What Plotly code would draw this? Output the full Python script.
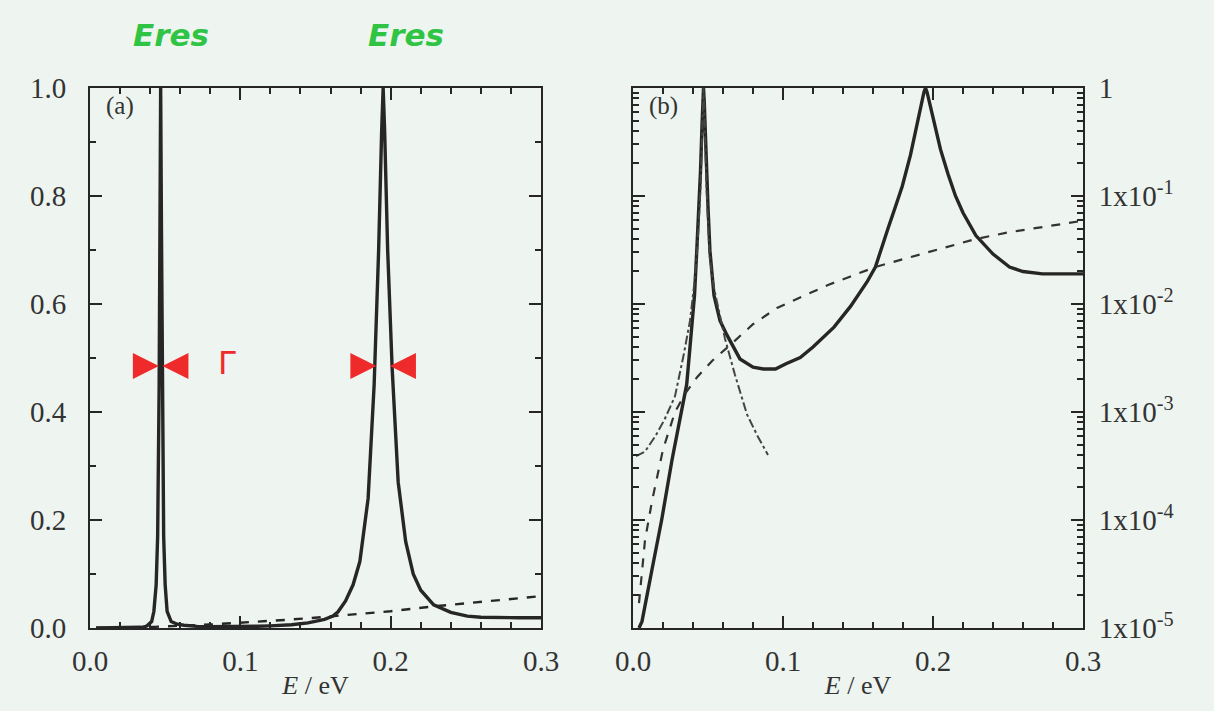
import plotly.graph_objects as go

# ---- data ----
# total transmission (solid)
E_total = [0.004, 0.006, 0.0127, 0.0191, 0.026, 0.0338, 0.0358, 0.038, 0.041, 0.0425, 0.044, 0.045,
           0.046, 0.0465, 0.047, 0.0475, 0.048, 0.049, 0.050, 0.0513, 0.054, 0.058, 0.0625, 0.0713,
           0.080, 0.0869, 0.095, 0.102, 0.1115, 0.120, 0.134, 0.145, 0.156, 0.1616, 0.165, 0.170,
           0.175, 0.1795, 0.185, 0.189, 0.192, 0.194, 0.195, 0.196, 0.198, 0.201, 0.205, 0.210,
           0.215, 0.220, 0.2286, 0.240, 0.251, 0.260, 0.273, 0.285, 0.300]
T_total = [1.0e-5, 1.15e-5, 3.5e-5, 1.0e-4, 3.6e-4, 1.26e-3, 1.8e-3, 4.0e-3, 1.2e-2, 3.1e-2, 8.0e-2, 0.17,
           0.45, 0.75, 1.0, 0.75, 0.45, 0.17, 0.08, 3.1e-2, 1.2e-2, 7.0e-3, 5.2e-3, 3.1e-3,
           2.6e-3, 2.5e-3, 2.5e-3, 2.8e-3, 3.2e-3, 4.0e-3, 6.1e-3, 9.5e-3, 1.6e-2, 2.2e-2, 3.0e-2, 5.0e-2,
           8.0e-2, 0.123, 0.24, 0.45, 0.70, 0.92, 1.0, 0.92, 0.70, 0.48, 0.27, 0.16,
           0.10, 0.07, 0.043, 0.029, 0.022, 0.020, 0.019, 0.019, 0.019]

# smooth background (dashed)
E_bg = [0.004, 0.008, 0.0127, 0.020, 0.028, 0.035, 0.0427, 0.053, 0.065, 0.080, 0.096, 0.115,
        0.130, 0.145, 0.1616, 0.180, 0.200, 0.2286, 0.250, 0.275, 0.300]
T_bg = [1.7e-5, 6.5e-5, 1.5e-4, 4.5e-4, 1.0e-3, 1.5e-3, 2.1e-3, 3.0e-3, 4.2e-3, 6.5e-3, 9.2e-3, 1.2e-2,
        1.5e-2, 1.8e-2, 2.2e-2, 2.6e-2, 3.1e-2, 4.0e-2, 4.6e-2, 5.2e-2, 5.9e-2]

# first resonance alone (dash-dot, panel b only)
E_res1 = [0.002, 0.008, 0.015, 0.021, 0.028, 0.034, 0.038, 0.041, 0.043, 0.045, 0.046, 0.0465,
          0.047, 0.0475, 0.048, 0.049, 0.051, 0.054, 0.0613, 0.068, 0.076, 0.083, 0.090]
T_res1 = [3.9e-4, 4.3e-4, 6.0e-4, 8.5e-4, 1.4e-3, 3.5e-3, 7.0e-3, 1.6e-2, 3.5e-2, 0.12, 0.35, 0.65,
          1.0, 0.65, 0.35, 0.12, 2.8e-2, 1.4e-2, 4.8e-3, 2.2e-3, 9.5e-4, 6.0e-4, 4.0e-4]

x_ticks = [0.0, 0.1, 0.2, 0.3]
x_tick_text = ["0.0", "0.1", "0.2", "0.3"]
ya_ticks = [0.0, 0.2, 0.4, 0.6, 0.8, 1.0]
ya_tick_text = ["0.0", "0.2", "0.4", "0.6", "0.8", "1.0"]
yb_ticks = [1e-5, 1e-4, 1e-3, 1e-2, 1e-1, 1]
yb_tick_text = ["1x10<sup>-5</sup>", "1x10<sup>-4</sup>", "1x10<sup>-3</sup>",
                "1x10<sup>-2</sup>", "1x10<sup>-1</sup>", "1"]

BG = "#eef4f0"
INK = "#262626"
TXT = "#333333"
SERIF = "Liberation Serif, DejaVu Serif, serif"

fig = go.Figure()
fig.add_trace(go.Scatter(x=E_total, y=T_total, mode="lines", xaxis="x", yaxis="y",
                         line=dict(color=INK, width=3.4), showlegend=False))
fig.add_trace(go.Scatter(x=E_bg, y=T_bg, mode="lines", xaxis="x", yaxis="y",
                         line=dict(color=INK, width=2.4, dash="dash"), showlegend=False))
fig.add_trace(go.Scatter(x=E_total, y=T_total, mode="lines", xaxis="x2", yaxis="y2",
                         line=dict(color=INK, width=3.4), showlegend=False))
fig.add_trace(go.Scatter(x=E_bg, y=T_bg, mode="lines", xaxis="x2", yaxis="y2",
                         line=dict(color="#333333", width=2.2, dash="dash"), showlegend=False))
fig.add_trace(go.Scatter(x=E_res1, y=T_res1, mode="lines", xaxis="x2", yaxis="y2",
                         line=dict(color="#444444", width=2, dash="dashdot"), showlegend=False))

W, H = 1214, 711
def dx(p0, p1):
    return [p0 / W, p1 / W]
def dy(top, bottom):
    return [(H - bottom) / H, (H - top) / H]

xcommon = dict(range=[0, 0.3], tickvals=x_ticks, ticktext=x_tick_text, ticks="inside",
               ticklen=12, tickwidth=1.5, tickcolor=INK, showline=True, linecolor=INK,
               linewidth=2, mirror="allticks", showgrid=False, zeroline=False, automargin=False,
               ticklabelstandoff=6,
               tickfont=dict(family=SERIF, size=29, color=TXT),
               minor=dict(ticks="inside", dtick=0.02, tick0=0, ticklen=6, tickcolor=INK,
                          showgrid=False),
               title=dict(text="<i>E</i> / eV", font=dict(family=SERIF, size=26, color=TXT),
                          standoff=0))

fig.update_layout(
    width=W, height=H, paper_bgcolor=BG, plot_bgcolor=BG, autosize=False,
    margin=dict(l=0, r=0, t=0, b=0, pad=0),
    xaxis=dict(domain=dx(90, 541), anchor="y", **xcommon),
    yaxis=dict(domain=dy(88, 628), anchor="x", range=[0, 1.0], tickvals=ya_ticks,
               ticktext=ya_tick_text, ticks="inside", ticklen=12, tickwidth=1.5, tickcolor=INK,
               showline=True, linecolor=INK, linewidth=2, mirror="allticks", showgrid=False,
               zeroline=False, automargin=False, ticklabelstandoff=16,
               tickfont=dict(family=SERIF, size=29, color=TXT),
               minor=dict(ticks="inside", dtick=0.1, tick0=0, ticklen=6, tickcolor=INK,
                          showgrid=False)),
    xaxis2=dict(domain=dx(633, 1083), anchor="y2", **xcommon),
    yaxis2=dict(domain=dy(88, 628), anchor="x2", type="log", range=[-5, 0], side="right",
                tickvals=yb_ticks, ticktext=yb_tick_text, ticks="inside", ticklen=12,
                tickwidth=1.5, tickcolor=INK, showline=True, linecolor=INK, linewidth=2,
                mirror="allticks", showgrid=False, zeroline=False, automargin=False,
                ticklabelstandoff=8,
                tickfont=dict(family=SERIF, size=29, color=TXT),
                minor=dict(ticks="inside", dtick="D1", ticklen=6, tickcolor=INK,
                           showgrid=False)),
)

# panel labels
fig.add_annotation(text="(a)", xref="x", yref="paper", x=0.009, y=(H - 90) / H, xanchor="left",
                   yanchor="top", showarrow=False, font=dict(family=SERIF, size=25, color=TXT))
fig.add_annotation(text="(b)", xref="x2", yref="paper", x=0.009, y=(H - 90) / H,
                   xanchor="left", yanchor="top", showarrow=False,
                   font=dict(family=SERIF, size=25, color=TXT))

# handwritten marks: resonance positions and widths
i1 = max(range(len(E_total)), key=lambda i: T_total[i] if E_total[i] < 0.1 else -1)
i2 = max(range(len(E_total)), key=lambda i: T_total[i] if E_total[i] > 0.1 else -1)
pk1, pk2 = E_total[i1], E_total[i2]
GREEN = "#30c445"
RED = "#ee2a2a"
for pk, shift in ((pk1, 0.007), (pk2, 0.015)):
    fig.add_annotation(text="<i><b>Eres</b></i>", xref="x", yref="paper", x=pk + shift,
                       y=(H - 35) / H, yanchor="middle", showarrow=False,
                       font=dict(family="DejaVu Sans, sans-serif", size=31, color=GREEN))
for pk, off in ((pk1, 0.0012), (pk2, 0.0045)):
    fig.add_annotation(x=pk - off, y=0.485, xref="x", yref="y", ax=-24, ay=0, showarrow=True,
                       arrowhead=2, arrowsize=1.3, arrowwidth=4, arrowcolor=RED, text="")
    fig.add_annotation(x=pk + off, y=0.485, xref="x", yref="y", ax=26, ay=0, showarrow=True,
                       arrowhead=2, arrowsize=1.3, arrowwidth=4, arrowcolor=RED, text="")
fig.add_annotation(text="Γ", xref="x", yref="y", x=0.091, y=0.49, showarrow=False,
                   font=dict(family="DejaVu Sans, sans-serif", size=32, color=RED))

fig.write_html("out.html", config={"displayModeBar": False},
               post_script="document.body.style.margin='0';")
